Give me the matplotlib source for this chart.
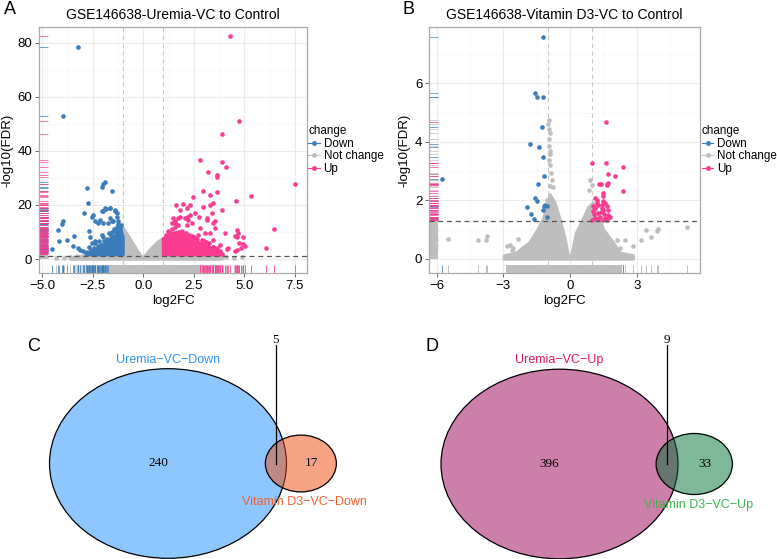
import numpy as np
import matplotlib
matplotlib.use("Agg")
import matplotlib.pyplot as plt
from matplotlib.lines import Line2D
from matplotlib.patches import Ellipse
from matplotlib.ticker import MultipleLocator

plt.rcParams['font.family'] = ['Liberation Sans', 'DejaVu Sans']

W, H = 777, 559
DOWN_C = '#3B7DBB'
UP_C = '#F93C91'
NS_C = '#BEBEBE'
FDR_CUT = -np.log10(0.05)
FC_CUT = 1.0

# ---------------- panel A : Uremia-VC vs Control ----------------
A_down_x = [-3.25, -3.96, -2.01, -1.90, -2.06, -2.77, -1.57, -2.72, -2.92, -2.47, -2.55, -1.85,
            -1.98, -1.65, -1.40, -2.14, -2.67, -3.99, -4.20, -4.15, -3.79, -3.43, -3.49, -4.50,
            -3.21, -3.13, -2.97, -2.84, -2.39, -2.47, -2.31, -2.23, -2.06, -1.32, -1.48, -1.24,
            -1.15, -2.06, -1.89, -1.65, -1.40, -1.32, -1.24, -1.15, -2.39, -2.22, -1.98, -1.73,
            -1.57, -1.65, -4.00, -2.64, -2.55, -2.39, -2.06,
            -2.80, -2.60, -2.45, -2.30, -2.10, -1.95, -1.80, -1.60, -1.55, -1.35, -1.30, -1.15,
            -1.70, -2.00, -2.20, -1.45, -1.25, -1.10, -2.70, -2.50]
A_down_y = [78.3, 52.8, 27.6, 28.4, 26.8, 26.2, 25.2, 20.9, 17.2, 16.3, 15.7, 18.4,
            17.6, 18.8, 18.2, 14.5, 10.2, 14.1, 10.8, 6.5, 7.1, 8.4, 4.9, 3.7,
            4.1, 3.4, 2.8, 2.2, 6.5, 2.2, 3.4, 4.7, 5.3, 15.7, 13.9, 13.0,
            10.8, 17.6, 18.8, 18.8, 17.6, 17.0, 13.9, 12.0, 13.9, 13.3, 13.3, 13.3,
            13.9, 15.1, 12.9, 8.3, 5.9, 5.9, 9.0,
            2.5, 3.5, 4.2, 3.8, 5.2, 6.5, 7.5, 8.5, 10.0, 10.5, 11.8, 11.0,
            9.5, 8.0, 6.8, 11.2, 9.8, 12.5, 4.6, 2.9]
A_down_core_x = [-2.8, -2.55, -2.2, -1.9, -1.7, -1.45, -1.25, -1.07, -1.0, -1.0]
A_down_core_y = [1.6, 2.5, 3.5, 5.2, 6.8, 8.0, 10.2, 9.8, 8.0, 1.6]

A_up_x = [4.29, 4.75, 3.87, 2.80, 3.87, 4.09, 3.21, 3.63, 3.63, 7.50, 2.97, 3.66, 2.44, 3.30,
          5.31, 4.58, 1.60, 1.98, 2.31, 2.97, 3.46, 1.81, 2.14, 2.55, 1.73, 2.14, 2.23, 2.77,
          3.13, 3.54, 6.46, 4.04, 4.62, 4.70, 4.53, 4.62, 4.91, 5.03, 4.91, 4.62, 4.53, 4.17,
          6.05, 3.46, 3.79, 3.71, 3.46, 1.48, 1.57, 3.30, 3.88, 4.75, 4.82, 4.16, 3.38, 3.13,
          3.55, 3.46, 3.30, 3.05, 2.80, 2.72, 2.39, 2.14, 2.06, 2.31, 1.82, 1.57, 1.73, 1.40,
          3.63, 3.79, 3.46,
          1.10, 1.20, 1.40, 1.55, 1.75, 1.90, 2.10, 2.25, 2.50, 2.65, 2.90, 3.10, 3.25, 3.45,
          3.60, 3.75, 3.90, 1.05, 1.30, 2.00, 2.40, 3.00]
A_up_y = [82.3, 51.0, 46.2, 36.6, 36.0, 33.9, 32.1, 31.1, 30.5, 27.6, 25.2, 24.9, 22.9, 23.5,
          23.3, 21.5, 20.0, 20.4, 20.0, 19.2, 20.9, 18.2, 18.8, 17.0, 15.1, 15.7, 14.5, 15.7,
          14.5, 13.9, 11.1, 9.8, 10.6, 9.6, 8.4, 8.0, 8.1, 4.7, 5.5, 3.4, 2.8, 4.1,
          4.1, 7.1, 5.3, 2.2, 2.2, 15.1, 13.3, 20.0, 18.2, 5.9, 4.0, 3.7, 17.0, 15.1,
          11.4, 13.3, 9.6, 9.6, 11.4, 9.0, 13.3, 12.7, 15.1, 16.3, 15.7, 13.9, 12.7, 13.3,
          4.0, 2.8, 4.6,
          9.0, 10.5, 11.0, 11.8, 10.0, 10.5, 9.5, 8.9, 8.0, 7.5, 7.0, 6.2, 5.8, 4.5,
          3.5, 2.5, 1.8, 7.5, 9.8, 9.2, 8.6, 6.6]
A_up_core_x = [1.0, 1.0, 1.3, 1.65, 1.95, 2.3, 2.75, 3.2, 3.6, 3.8, 3.8]
A_up_core_y = [1.6, 7.5, 9.0, 9.8, 8.4, 7.6, 6.0, 4.8, 3.0, 1.7, 1.6]

A_ns_env_x = [-3.6, -3.0, -2.5, -1.5, -1.1, -1.0, -0.75, -0.5, -0.25, -0.1, 0.0, 0.1, 0.25,
              0.5, 0.75, 1.0, 1.1, 1.5, 2.5, 3.5, 3.9, 3.9, -3.6]
A_ns_env_y = [0.3, 1.0, 1.5, 1.8, 6.0, 11.5, 8.5, 5.5, 2.5, 1.0, 0.4, 1.0, 2.5,
              4.5, 6.3, 7.5, 3.0, 1.8, 1.5, 1.2, 0.5, 0.0, 0.0]
A_ns_x = [-4.3, -3.9, -3.6, -3.3, 3.95, 4.1, 4.5, 4.9]
A_ns_y = [0.3, 0.4, 0.8, 1.0, 1.0, 0.6, 0.3, 0.9]
A_ns_rug_y = [0.0, 11.5]
A_ns_rug_wide = [-3.4, 3.9]
A_ns_rug_dense = [-1.7, 2.8]

A_xticks = [-5.0, -2.5, 0.0, 2.5, 5.0, 7.5]
A_xticklabels = ['\u22125.0', '\u22122.5', '0.0', '2.5', '5.0', '7.5']
A_yticks = [0, 20, 40, 60, 80]

# ---------------- panel B : Vitamin D3-VC vs Control ----------------
B_down_x = [-1.23, -1.58, -1.47, -1.23, -1.28, -1.80, -1.40, -1.20, -1.17, -1.46, -5.78,
            -1.58, -1.50, -1.92, -1.77, -1.62, -1.13, -1.17, -1.05, -1.23, -1.05]
B_down_y = [7.59, 5.69, 5.55, 5.55, 4.52, 3.93, 3.82, 3.47, 2.84, 2.56, 2.73,
            2.10, 1.97, 1.77, 1.53, 1.36, 1.85, 1.80, 1.80, 1.68, 1.43]
B_up_x = [1.61, 1.01, 1.61, 2.40, 1.73, 2.03, 1.31, 1.38, 1.65, 1.73, 2.40, 1.50, 1.50, 1.13,
          1.20, 1.02, 1.13, 1.28, 1.50, 1.58, 1.65, 1.43, 1.05, 1.28, 1.47, 1.73, 1.35, 1.58,
          1.80, 1.13, 1.01, 1.50, 1.65, 1.20, 1.40, 1.55, 1.10, 1.25, 1.70, 1.45, 1.68]
B_up_y = [4.69, 3.27, 3.27, 3.14, 2.90, 2.84, 2.56, 2.56, 2.56, 2.59, 2.33, 2.25, 2.14, 2.08,
          2.02, 1.80, 1.74, 1.85, 1.97, 1.91, 1.80, 1.74, 1.63, 1.57, 1.68, 1.66, 1.45, 1.40,
          1.43, 1.40, 1.34, 1.32, 1.34, 1.90, 1.60, 1.52, 1.55, 1.35, 1.50, 1.85, 2.53]
B_ns_env_x = [-2.95, -2.4, -1.8, -1.43, -1.2, -0.98, -0.9, -0.68, -0.45, -0.22, -0.07, 0.08,
              0.3, 0.6, 0.83, 1.05, 1.5, 1.95, 2.25, 2.85, 2.85, -2.95]
B_ns_env_y = [0.1, 0.2, 0.55, 1.0, 1.34, 1.85, 2.19, 1.91, 1.34, 0.66, 0.09, 0.09,
              0.89, 1.34, 1.74, 1.91, 1.0, 0.55, 0.2, 0.1, 0.0, 0.0]
B_ns_x = [-5.47, -4.13, -3.80, -3.72, -2.33, -2.85, -2.70, -2.55, -2.63, 3.42, 3.90, 3.97,
          5.28, 3.63, 3.18, 2.82, 2.48, 2.10, 2.25,
          -0.95, -0.97, -0.93, -0.92, -0.95, -0.93, -0.90, -0.88, -0.95, -0.92, -0.85, -0.80,
          -0.75, -0.90, 0.90, 0.97, 0.85, -1.05]
B_ns_y = [0.68, 0.64, 0.64, 0.77, 0.68, 0.43, 0.49, 0.38, 0.32, 1.00, 0.97, 1.02,
          1.09, 0.75, 0.64, 0.43, 0.66, 0.66, 0.38,
          4.75, 4.60, 4.45, 4.30, 4.10, 3.85, 3.70, 3.60, 3.40, 3.20, 2.95, 2.70,
          2.45, 2.50, 2.70, 2.53, 2.35, 2.00]
B_ns_rug_y = [0.0, 1.45]
B_ns_rug_wide = [-2.9, 2.35]
B_ns_rug_dense = [-2.9, 2.35]

B_xticks = [-6, -3, 0, 3]
B_xticklabels = ['\u22126', '\u22123', '0', '3']
B_yticks = [0, 2, 4, 6]

# ---------------- Venn counts ----------------
C_sets = ['Uremia\u2212VC\u2212Down', 'Vitamin D3\u2212VC\u2212Down']
C_counts = [240, 17, 5]          # only A, only B, both
D_sets = ['Uremia\u2212VC\u2212Up', 'Vitamin D3\u2212VC\u2212Up']
D_counts = [396, 33, 9]

fig = plt.figure(figsize=(W / 100, H / 100), dpi=100)


def px_axes(l, t, r, b):
    return fig.add_axes([l / W, 1 - b / H, (r - l) / W, (b - t) / H])


RUG = 0.032


def volcano(ax, dx, dy, dcore, ux, uy, ucore, env, nsx, nsy, rug_y, rug_wide, rug_dense):
    yt = ax.get_yaxis_transform()
    xt = ax.get_xaxis_transform()
    ax.axvline(-FC_CUT, color='#C8C8C8', ls=(0, (4, 3)), lw=0.8, zorder=1.5)
    ax.axvline(FC_CUT, color='#C8C8C8', ls=(0, (4, 3)), lw=0.8, zorder=1.5)
    # not changed genes
    ax.fill(env[0], env[1], color=NS_C, ec=NS_C, lw=2.5, joinstyle='round', zorder=2)
    ax.scatter(nsx, nsy, s=11, color=NS_C, lw=0, zorder=2)
    # changed genes
    if dcore is not None:
        ax.fill(dcore[0], dcore[1], color=DOWN_C, ec=DOWN_C, lw=2.5, joinstyle='round', zorder=3)
        ax.fill(ucore[0], ucore[1], color=UP_C, ec=UP_C, lw=2.5, joinstyle='round', zorder=3)
    ax.scatter(dx, dy, s=11, color=DOWN_C, lw=0, zorder=3)
    ax.scatter(ux, uy, s=11, color=UP_C, lw=0, zorder=3)
    ax.axhline(FDR_CUT, color='#555555', ls=(0, (4, 3)), lw=0.9, zorder=4)

    # left rug
    ax.fill_betweenx(rug_y, 0, RUG, transform=yt, color=NS_C, lw=0, zorder=2)
    if dcore is not None:
        ax.fill_betweenx([min(dcore[1]), max(dcore[1])], 0, RUG, transform=yt,
                         color=DOWN_C, alpha=0.45, lw=0, zorder=2)
        ax.fill_betweenx([min(ucore[1]), max(ucore[1])], 0, RUG, transform=yt,
                         color=UP_C, alpha=0.45, lw=0, zorder=2)
    ax.hlines(nsy, 0, RUG, transform=yt, colors=NS_C, lw=0.7, alpha=0.7, zorder=2)
    ax.hlines(dy, 0, RUG, transform=yt, colors=DOWN_C, lw=0.7, alpha=0.7, zorder=2)
    ax.hlines(uy, 0, RUG, transform=yt, colors=UP_C, lw=0.7, alpha=0.7, zorder=2)
    # bottom rug
    ax.fill_between(rug_wide, 0, RUG, transform=xt, color=NS_C, alpha=0.6, lw=0, zorder=2)
    ax.vlines(dx, 0, RUG, transform=xt, colors=DOWN_C, lw=0.7, alpha=0.8, zorder=2)
    ax.vlines(ux, 0, RUG, transform=xt, colors=UP_C, lw=0.7, alpha=0.8, zorder=2)
    ax.fill_between(rug_dense, 0, RUG, transform=xt, color=NS_C, lw=0, zorder=2)
    ax.vlines(nsx, 0, RUG, transform=xt, colors=NS_C, lw=0.7, zorder=2)

    ax.grid(which='major', color='#EBEBEB', lw=0.8, zorder=0)
    ax.grid(which='minor', color='#F4F4F4', lw=0.5, zorder=0)
    ax.set_axisbelow(True)
    for s in ax.spines.values():
        s.set_color('#A8A8A8')
        s.set_linewidth(0.9)
    ax.tick_params(which='major', length=3, width=0.6, color='#555555', labelsize=9.5, pad=2)
    ax.tick_params(which='minor', length=0)
    ax.set_xlabel('log2FC', fontsize=9.5, labelpad=2)
    ax.set_ylabel('-log10(FDR)', fontsize=9.5, labelpad=3)
    handles = [Line2D([], [], color=c, marker='o', ms=2.5, lw=0.8) for c in (DOWN_C, NS_C, UP_C)]
    ax.legend(handles, ['Down', 'Not change', 'Up'], title='change', loc='center left',
              bbox_to_anchor=(1.0, 0.50), frameon=False, fontsize=8.4, title_fontsize=8.4,
              handlelength=1.0, handletextpad=0.3, labelspacing=0.05, borderaxespad=0.05,
              borderpad=0.1, alignment='left')


axA = px_axes(39.3, 27, 306.7, 273)
volcano(axA, A_down_x, A_down_y, (A_down_core_x, A_down_core_y), A_up_x, A_up_y,
        (A_up_core_x, A_up_core_y), (A_ns_env_x, A_ns_env_y), A_ns_x, A_ns_y,
        A_ns_rug_y, A_ns_rug_wide, A_ns_rug_dense)
axA.set_xlim(-5.14, 8.08)
axA.set_ylim(-5.16, 85.8)
axA.set_xticks(A_xticks)
axA.set_xticklabels(A_xticklabels)
axA.set_yticks(A_yticks)
axA.xaxis.set_minor_locator(MultipleLocator(1.25))
axA.yaxis.set_minor_locator(MultipleLocator(10))
axA.set_title('GSE146638-Uremia-VC to Control', fontsize=10, pad=6)

axB = px_axes(429.3, 27, 700, 273)
volcano(axB, B_down_x, B_down_y, None, B_up_x, B_up_y, None,
        (B_ns_env_x, B_ns_env_y), B_ns_x, B_ns_y, B_ns_rug_y, B_ns_rug_wide, B_ns_rug_dense)
axB.set_xlim(-6.33, 5.85)
axB.set_ylim(-0.48, 7.93)
axB.set_xticks(B_xticks)
axB.set_xticklabels(B_xticklabels)
axB.set_yticks(B_yticks)
axB.xaxis.set_minor_locator(MultipleLocator(1.5))
axB.yaxis.set_minor_locator(MultipleLocator(1))
axB.set_title('GSE146638-Vitamin D3-VC to Control', fontsize=10, pad=6)


# ---------------- Venn diagrams ----------------
def lens_area(r1, r2, d):
    a1 = r1 ** 2 * np.arccos((d * d + r1 * r1 - r2 * r2) / (2 * d * r1))
    a2 = r2 ** 2 * np.arccos((d * d + r2 * r2 - r1 * r1) / (2 * d * r2))
    k = 0.5 * np.sqrt((-d + r1 + r2) * (d + r1 - r2) * (d - r1 + r2) * (d + r1 + r2))
    return a1 + a2 - k


def center_distance(r1, r2, target):
    lo, hi = abs(r1 - r2) + 1e-6, r1 + r2 - 1e-6
    for _ in range(60):
        mid = (lo + hi) / 2
        if lens_area(r1, r2, mid) > target:
            lo = mid
        else:
            hi = mid
    return (lo + hi) / 2


VENN_R = 118.5
SQUASH = 0.8
axV = px_axes(0, 300, W, H)
axV.set_xlim(0, W)
axV.set_ylim(H, 300)
axV.axis('off')


def venn(cx, cy, sets, counts, fills, text_cols):
    n1 = counts[0] + counts[2]
    n2 = counts[1] + counts[2]
    r1 = VENN_R
    r2 = VENN_R * np.sqrt(n2 / n1)
    d = center_distance(r1, r2, np.pi * r1 ** 2 * counts[2] / n1)
    cx2 = cx + d
    for x, r, c in ((cx, r1, fills[0]), (cx2, r2, fills[1])):
        axV.add_patch(Ellipse((x, cy), 2 * r, 2 * r * SQUASH, facecolor=c, alpha=0.5,
                              edgecolor='none'))
        axV.add_patch(Ellipse((x, cy), 2 * r, 2 * r * SQUASH, facecolor='none',
                              edgecolor='black', lw=0.9))
    mid = ((cx2 - r2) + (cx + r1)) / 2
    serif = ['Liberation Serif', 'DejaVu Serif']
    axV.text(cx - 10, cy, str(counts[0]), ha='center', va='center', fontsize=9.5, family=serif)
    axV.text(cx2 + 11, cy, str(counts[1]), ha='center', va='center', fontsize=9.5, family=serif)
    axV.plot([mid, mid], [cy, 345], color='black', lw=0.9)
    axV.text(mid, 340, str(counts[2]), ha='center', va='center', fontsize=9.5, family=serif)
    axV.text(cx, cy - r1 * SQUASH - 9, sets[0], ha='center', va='center', fontsize=9,
             color=text_cols[0])
    axV.text(cx2 + 4, cy + r2 * SQUASH + 10, sets[1], ha='center', va='center', fontsize=9,
             color=text_cols[1])


venn(168, 463.5, C_sets, C_counts, ('#1E90FF', '#EE4A0A'), ('#2E95F0', '#F2602E'))
venn(559.5, 464, D_sets, D_counts, ('#9B0057', '#007135'), ('#E0195F', '#3CB44B'))

for lab, x, y in (('A', 10, 10), ('B', 409, 10), ('C', 33.5, 346.5), ('D', 431.5, 346.5)):
    fig.text(x / W, 1 - y / H, lab, fontsize=13, ha='center', va='center')

fig.savefig('out.png', dpi=100)
